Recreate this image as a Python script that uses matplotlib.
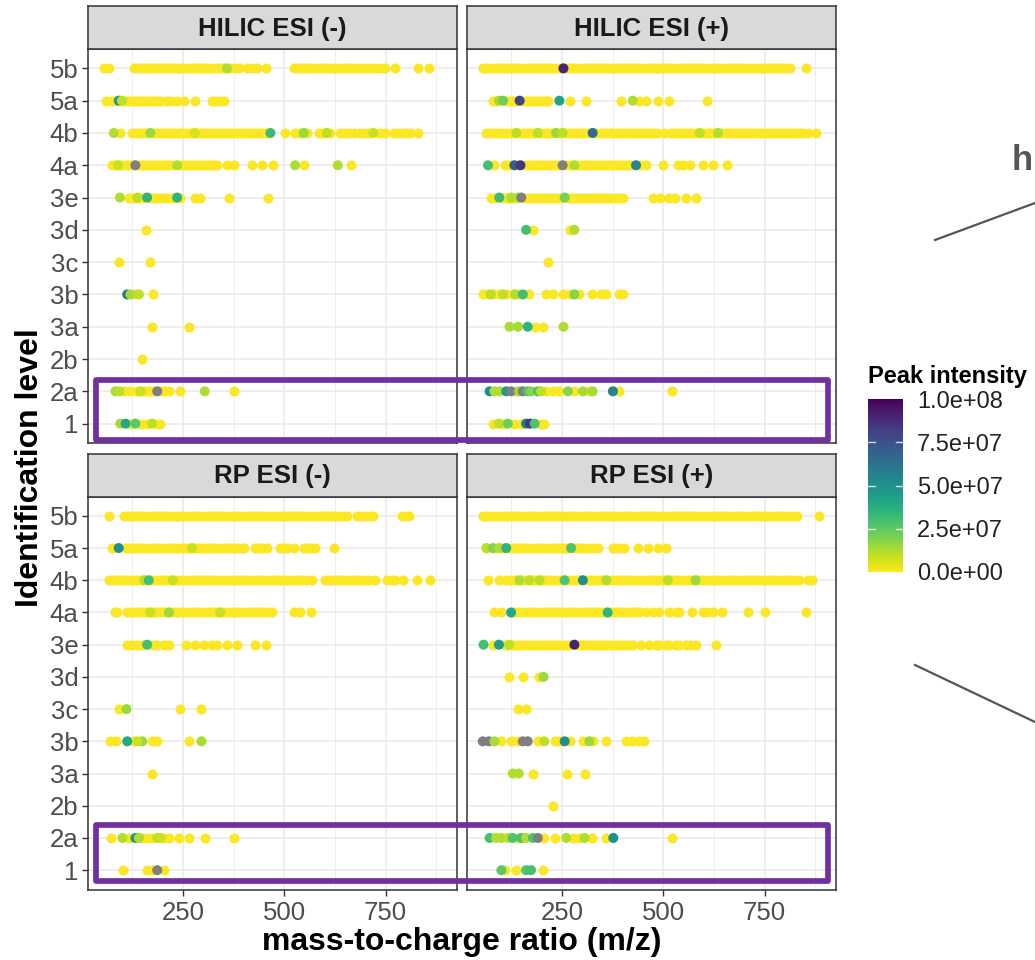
import matplotlib
matplotlib.use('Agg')
import matplotlib.pyplot as plt
from matplotlib.colors import Normalize
from matplotlib.cm import ScalarMappable
from matplotlib.lines import Line2D
from matplotlib.patches import Rectangle

plt.rcParams['font.family'] = ['Liberation Sans', 'DejaVu Sans']

# ---------------- data ----------------
levels = ['1', '2a', '2b', '3a', '3b', '3c', '3d', '3e', '4a', '4b', '5a', '5b']
panels = ['HILIC ESI (-)', 'HILIC ESI (+)', 'RP ESI (-)', 'RP ESI (+)']
x_ticks = [250, 500, 750]
x_minor = [125, 375, 625, 875]
cbar_ticks = [0, 2.5e7, 5e7, 7.5e7, 1e8]
cbar_labels = ['0.0e+00', '2.5e+07', '5.0e+07', '7.5e+07', '1.0e+08']
low_intensity = 5e5   # near-zero intensity of the yellow points

# low-intensity features: m/z per identification level
hilic_neg_mz = {
    '5b': [55, 68, 129, 137, 146, 154, 162, 171, 180, 188, 196, 205, 214, 222, 231, 240, 248, 256, 265, 274,
           282, 291, 300, 308, 317, 326, 334, 343, 352, 367, 378, 388, 408, 421, 433, 454, 523, 531, 540, 549,
           558, 567, 577, 586, 595, 604, 613, 622, 632, 641, 650, 659, 668, 678, 688, 697, 706, 716, 726, 737,
           748, 774, 831, 856],
    '5a': [60, 75, 84, 101, 110, 118, 126, 134, 142, 150, 158, 166, 174, 182, 190, 197, 211, 222, 236, 252,
           281, 322, 330, 342, 351],
    '4b': [96, 125, 134, 142, 151, 160, 178, 187, 196, 205, 214, 223, 231, 240, 249, 258, 267, 276, 285, 294,
           302, 311, 320, 329, 338, 347, 356, 365, 374, 383, 392, 401, 410, 419, 428, 437, 446, 456, 503, 527,
           538, 556, 585, 596, 614, 638, 648, 660, 671, 688, 699, 710, 733, 749, 770, 781, 792, 801, 811, 831],
    '4a': [76, 84, 92, 101, 109, 117, 125, 142, 150, 158, 166, 175, 183, 191, 199, 208, 216, 224, 245, 253,
           261, 270, 278, 286, 294, 303, 311, 319, 327, 335, 359, 376, 421, 445, 472, 548, 665],
    '3e': [117, 125, 133, 141, 150, 170, 178, 186, 195, 203, 211, 220, 228, 244, 281, 293, 365, 459],
    '3d': [160],
    '3c': [92, 168],
    '3b': [133, 177],
    '3a': [173, 266],
    '2b': [150],
    '2a': [105, 121, 137, 154, 162, 170, 178, 199, 207, 215, 242, 376],
    '1': [121, 146, 162, 186, 195],
}
hilic_pos_mz = {
    '5b': [55, 64, 71, 80, 90, 99, 107, 116, 125, 133, 142, 151, 160, 168, 177, 186, 194, 203, 212, 220,
           229, 238, 247, 263, 272, 281, 289, 298, 307, 316, 324, 333, 342, 351, 359, 368, 377, 386, 394, 403,
           412, 421, 429, 438, 447, 456, 464, 473, 482, 491, 499, 508, 517, 526, 534, 543, 552, 561, 569, 578,
           587, 596, 604, 613, 622, 631, 640, 650, 659, 668, 677, 686, 695, 704, 713, 722, 731, 740, 749, 758,
           767, 776, 785, 794, 803, 812, 853],
    '5a': [80, 88, 112, 121, 129, 137, 154, 162, 170, 178, 187, 195, 203, 211, 216, 269, 310, 396, 441, 458,
           487, 514, 607],
    '4b': [64, 73, 82, 95, 106, 115, 124, 133, 145, 154, 163, 172, 181, 199, 208, 217, 226, 245, 260, 269,
           278, 287, 296, 305, 314, 335, 350, 359, 368, 377, 386, 395, 404, 413, 422, 431, 440, 449, 458, 467,
           476, 485, 503, 520, 529, 538, 547, 556, 565, 574, 583, 598, 607, 616, 625, 645, 654, 663, 672, 681,
           690, 699, 708, 717, 726, 735, 744, 753, 762, 771, 780, 789, 798, 807, 816, 825, 834, 843, 856, 877],
    '4a': [84, 109, 117, 125, 142, 158, 166, 174, 183, 191, 199, 207, 216, 224, 232, 240, 261, 269, 290, 298,
           306, 314, 322, 330, 338, 347, 355, 363, 371, 379, 388, 396, 404, 412, 420, 442, 458, 499, 536, 548,
           565, 597, 622, 657],
    '3e': [76, 84, 105, 113, 121, 129, 137, 158, 166, 174, 182, 190, 199, 207, 215, 223, 231, 239, 247, 265,
           273, 281, 289, 297, 305, 313, 321, 330, 338, 346, 354, 362, 370, 380, 392, 400, 474, 491, 515, 528,
           556, 581],
    '3d': [178, 269],
    '3c': [217],
    '3b': [55, 67, 80, 96, 113, 129, 142, 170, 211, 228, 252, 269, 293, 325, 347, 359, 392, 400],
    '3a': [183, 203],
    '2b': [],
    '2a': [137, 211, 228, 244, 281, 318, 390, 521],
    '1': [80, 105, 133, 150, 199, 207],
}
rp_neg_mz = {
    '5b': [68, 105, 114, 122, 131, 140, 149, 158, 167, 176, 185, 194, 203, 212, 221, 230, 239, 248, 257, 266,
           275, 284, 293, 302, 311, 320, 329, 338, 347, 356, 365, 374, 383, 392, 401, 410, 419, 428, 437, 446,
           455, 464, 473, 482, 491, 500, 509, 518, 527, 536, 545, 554, 563, 572, 581, 590, 599, 608, 617, 626,
           635, 644, 655, 679, 690, 700, 712, 720, 790, 800, 807],
    '5a': [76, 109, 118, 126, 135, 144, 153, 162, 171, 180, 189, 198, 207, 216, 225, 234, 243, 252, 261, 270,
           279, 288, 297, 306, 315, 324, 333, 342, 351, 360, 369, 378, 387, 396, 400, 429, 437, 445, 458, 490,
           499, 507, 523, 548, 556, 565, 577, 622],
    '4b': [68, 77, 86, 95, 104, 113, 122, 131, 140, 149, 158, 175, 184, 193, 202, 211, 220, 229, 238, 247,
           256, 265, 274, 283, 292, 301, 310, 319, 328, 337, 346, 355, 364, 373, 382, 391, 400, 409, 418, 427,
           436, 445, 454, 463, 472, 481, 490, 499, 508, 517, 526, 535, 544, 553, 568, 601, 610, 619, 628, 637,
           646, 655, 664, 673, 682, 691, 700, 708, 725, 753, 765, 774, 794, 827, 860],
    '4a': [84, 88, 113, 122, 131, 140, 149, 158, 167, 176, 185, 194, 203, 212, 221, 230, 239, 248, 257, 266,
           275, 284, 293, 302, 311, 320, 329, 338, 347, 356, 365, 374, 383, 392, 401, 410, 419, 428, 437, 446,
           455, 464, 470, 523, 540, 565],
    '3e': [113, 125, 137, 150, 174, 187, 203, 216, 257, 281, 302, 322, 334, 359, 384, 429, 454],
    '3d': [],
    '3c': [92, 242, 295],
    '3b': [70, 86, 129, 174, 187, 266],
    '3a': [174],
    '2b': [],
    '2a': [72, 117, 150, 162, 174, 203, 216, 240, 265, 304, 376],
    '1': [102, 162, 174, 203],
}
rp_pos_mz = {
    '5b': [55, 64, 73, 82, 91, 100, 109, 118, 127, 136, 145, 154, 163, 172, 181, 190, 199, 208, 217, 226,
           235, 244, 253, 262, 271, 280, 289, 298, 307, 316, 325, 334, 343, 352, 361, 370, 379, 388, 397, 406,
           415, 424, 433, 442, 451, 460, 469, 478, 487, 496, 505, 514, 523, 532, 541, 550, 559, 568, 577, 586,
           595, 604, 613, 622, 631, 640, 649, 658, 667, 676, 685, 694, 703, 712, 721, 730, 739, 748, 757, 766,
           775, 784, 793, 802, 811, 820, 831, 883],
    '5a': [64, 88, 105, 121, 129, 138, 147, 156, 165, 174, 183, 192, 201, 210, 219, 228, 237, 246, 255, 264,
           282, 291, 300, 309, 318, 327, 339, 376, 384, 392, 404, 437, 462, 487, 507],
    '4b': [68, 95, 113, 122, 131, 140, 149, 158, 167, 176, 185, 194, 203, 212, 221, 230, 239, 248, 266, 275,
           284, 293, 311, 320, 329, 338, 347, 356, 365, 374, 383, 392, 401, 410, 419, 428, 437, 446, 455, 464,
           473, 482, 491, 500, 509, 518, 527, 536, 545, 554, 563, 572, 581, 590, 599, 608, 617, 626, 635, 644,
           653, 662, 671, 680, 689, 698, 707, 716, 725, 734, 743, 752, 761, 770, 779, 788, 797, 806, 815, 824,
           836, 856, 868],
    '4a': [84, 101, 133, 142, 151, 160, 169, 178, 187, 196, 205, 214, 223, 232, 241, 250, 259, 268, 277, 286,
           295, 304, 313, 322, 331, 340, 349, 358, 372, 381, 390, 399, 408, 417, 426, 435, 441, 458, 474, 490,
           515, 532, 540, 572, 597, 609, 622, 646, 708, 751, 853],
    '3e': [80, 109, 118, 127, 136, 145, 154, 163, 172, 181, 190, 199, 208, 217, 226, 235, 244, 253, 262, 271,
           290, 299, 308, 317, 326, 335, 344, 353, 362, 371, 380, 389, 398, 407, 416, 425, 445, 466, 482, 490,
           507, 515, 532, 540, 556, 566, 581, 630],
    '3d': [119, 154, 195],
    '3c': [142, 162],
    '3b': [101, 125, 142, 191, 232, 244, 269, 302, 326, 359, 408, 424, 441, 453],
    '3a': [179, 262, 308],
    '2b': [228],
    '2a': [142, 207, 232, 277, 293, 324, 359, 521],
    '1': [109, 137, 203],
}

# higher-intensity features: (level, m/z, intensity); None = missing intensity
hilic_neg_high = [
    ('5b', 359, 1.2e7), ('5a', 92, 4.5e7), ('5a', 100, 1.0e7),
    ('4b', 80, 1.2e7), ('4b', 170, 1.5e7), ('4b', 466, 3.2e7), ('4b', 548, 1.5e7), ('4b', 605, 1.0e7),
    ('4b', 720, 0.8e7), ('4b', 280, 0.6e7),
    ('4a', 133, None), ('4a', 236, 1.2e7), ('4a', 527, 1.2e7), ('4a', 632, 1.2e7), ('4a', 90, 0.8e7),
    ('3e', 95, 1.2e7), ('3e', 162, 3.5e7), ('3e', 236, 3.5e7), ('3e', 138, 1.0e7),
    ('3b', 113, 6.0e7), ('3b', 121, 1.3e7), ('3b', 142, 1.0e7),
    ('2a', 84, 1.3e7), ('2a', 94, 1.0e7), ('2a', 187, None), ('2a', 304, 1.2e7), ('2a', 146, 0.8e7),
    ('1', 96, 1.3e7), ('1', 109, 4.0e7), ('1', 133, 2.5e7), ('1', 174, 1.0e7),
]
hilic_pos_high = [
    ('5b', 254, 9.0e7),
    ('5a', 95, 1.3e7), ('5a', 105, 2.2e7), ('5a', 146, 8.0e7), ('5a', 244, 4.2e7), ('5a', 425, 1.2e7),
    ('4b', 138, 1.0e7), ('4b', 191, 1.0e7), ('4b', 236, 1.5e7), ('4b', 252, 1.0e7), ('4b', 326, 6.5e7),
    ('4b', 590, 1.0e7), ('4b', 635, 1.2e7),
    ('4a', 68, 3.0e7), ('4a', 133, 7.0e7), ('4a', 148, 8.5e7), ('4a', 252, None), ('4a', 281, 1.2e7),
    ('4a', 433, 5.5e7),
    ('3e', 96, 3.2e7), ('3e', 125, 1.2e7), ('3e', 142, 1.0e7), ('3e', 150, None), ('3e', 257, 2.0e7),
    ('3d', 162, 3.0e7), ('3d', 281, 1.2e7),
    ('3b', 75, 1.0e7), ('3b', 105, 1.0e7), ('3b', 135, 1.2e7), ('3b', 154, 3.0e7), ('3b', 281, 1.8e7),
    ('3a', 121, 1.3e7), ('3a', 142, 1.3e7), ('3a', 166, 3.5e7), ('3a', 254, 1.2e7),
    ('2a', 72, 5.0e7), ('2a', 84, 1.2e7), ('2a', 96, 1.2e7), ('2a', 113, 4.5e7), ('2a', 125, None),
    ('2a', 145, 1.5e7), ('2a', 154, None), ('2a', 166, 2.8e7), ('2a', 174, 1.8e7), ('2a', 191, 2.8e7),
    ('2a', 199, 1.0e7), ('2a', 265, 1.8e7), ('2a', 302, 1.3e7), ('2a', 326, 1.3e7), ('2a', 376, 5.5e7),
    ('1', 95, 1.0e7), ('1', 117, 2.2e7), ('1', 162, 6.0e7), ('1', 172, 8.5e7), ('1', 183, 2.8e7),
]
rp_neg_high = [
    ('5a', 92, 5.0e7), ('5a', 273, 0.8e7),
    ('4b', 155, 1.0e7), ('4b', 166, 3.0e7), ('4b', 225, 0.8e7),
    ('4a', 170, 0.8e7), ('4a', 216, 1.5e7), ('4a', 342, 0.8e7),
    ('3e', 162, 3.0e7),
    ('3c', 111, 1.5e7),
    ('3b', 113, 4.0e7), ('3b', 150, 1.5e7), ('3b', 296, 1.3e7), ('3b', 138, 0.8e7),
    ('2a', 101, 1.2e7), ('2a', 133, 4.5e7), ('2a', 142, 1.2e7), ('2a', 187, 1.0e7), ('2a', 195, 0.8e7),
    ('1', 187, None),
]
rp_pos_high = [
    ('5a', 64, 1.0e7), ('5a', 80, 1.8e7), ('5a', 96, 1.2e7), ('5a', 113, 3.5e7), ('5a', 273, 2.8e7),
    ('4b', 146, 1.2e7), ('4b', 170, 1.0e7), ('4b', 195, 1.0e7), ('4b', 257, 2.8e7), ('4b', 302, 5.0e7),
    ('4b', 360, 1.2e7), ('4b', 511, 1.0e7), ('4b', 580, 1.5e7),
    ('4a', 125, 4.0e7), ('4a', 363, 3.5e7),
    ('3e', 57, 3.0e7), ('3e', 95, 4.5e7), ('3e', 120, 1.0e7), ('3e', 281, 9.0e7),
    ('3d', 205, 1.5e7),
    ('3b', 55, None), ('3b', 70, None), ('3b', 84, 1.3e7), ('3b', 154, None), ('3b', 166, None),
    ('3b', 207, 1.0e7), ('3b', 257, 5.0e7), ('3b', 318, 1.5e7),
    ('3a', 129, 1.2e7), ('3a', 144, 1.2e7),
    ('2a', 72, 3.0e7), ('2a', 88, 1.2e7), ('2a', 101, 1.2e7), ('2a', 117, 1.0e7), ('2a', 129, 2.8e7),
    ('2a', 150, 2.8e7), ('2a', 162, 1.2e7), ('2a', 179, 2.8e7), ('2a', 191, None), ('2a', 261, 1.2e7),
    ('2a', 306, 1.2e7), ('2a', 377, 5.0e7),
    ('1', 101, 2.5e7), ('1', 162, 2.8e7), ('1', 174, 3.0e7),
]

panel_low = [hilic_neg_mz, hilic_pos_mz, rp_neg_mz, rp_pos_mz]
panel_high = [hilic_neg_high, hilic_pos_high, rp_neg_high, rp_pos_high]

# ---------------- figure ----------------
W, H = 1035, 960
fig = plt.figure(figsize=(W / 100, H / 100), dpi=100)
cmap = plt.get_cmap('viridis_r')
norm = Normalize(0, 1e8)
NA_COLOR = '#7F7F7F'
DOT = 52


def rect(l, t, r, b):
    return [l / W, 1 - b / H, (r - l) / W, (b - t) / H]


cols = [(88.3, 457.0), (467.3, 836.0)]
rows = [(49.0, 443.0), (496.5, 889.5)]
strip_h = 43.0
lvl_idx = {lv: i for i, lv in enumerate(levels)}

for k, name in enumerate(panels):
    r, c = divmod(k, 2)
    l, rr = cols[c]
    t, b = rows[r]
    ax = fig.add_axes(rect(l, t, rr, b))
    ax.set_xlim(17, 926)
    ax.set_ylim(-0.6, len(levels) - 0.4)
    ax.set_axisbelow(True)
    ax.set_xticks(x_ticks)
    ax.set_xticks(x_minor, minor=True)
    ax.set_yticks(range(len(levels)))
    ax.grid(True, which='major', color='#EBEBEB', lw=1.2)
    ax.grid(True, which='minor', axis='x', color='#EBEBEB', lw=0.6)
    for s in ax.spines.values():
        s.set_color('#333333')
        s.set_linewidth(1.1)
    ax.tick_params(which='minor', length=0)
    ax.tick_params(axis='both', which='major', colors='#333333', length=4, width=1.0,
                   labelsize=18.5, labelcolor='#4D4D4D')
    ax.tick_params(axis='x', pad=4)
    ax.tick_params(axis='y', pad=3)
    if c == 0:
        ax.set_yticklabels(levels)
    else:
        ax.set_yticklabels([])
        ax.tick_params(axis='y', length=0)
    if r == 1:
        ax.set_xticklabels([str(v) for v in x_ticks])
    else:
        ax.set_xticklabels([])
        ax.tick_params(axis='x', length=0)

    low = panel_low[k]
    xs, ys = [], []
    for lv in levels:
        for mz in low[lv]:
            xs.append(mz)
            ys.append(lvl_idx[lv])
    ax.scatter(xs, ys, s=DOT, c=[cmap(norm(low_intensity))], linewidths=0, zorder=2)
    hx, hy, hc = [], [], []
    for lv, mz, val in panel_high[k]:
        hx.append(mz)
        hy.append(lvl_idx[lv])
        hc.append(NA_COLOR if val is None else cmap(norm(val)))
    ax.scatter(hx, hy, s=DOT, c=hc, linewidths=0, zorder=3)

    # strip
    sax = fig.add_axes(rect(l, t - strip_h, rr, t))
    sax.set_facecolor('#D9D9D9')
    sax.set_xticks([])
    sax.set_yticks([])
    for s in sax.spines.values():
        s.set_color('#333333')
        s.set_linewidth(1.1)
    sax.text(0.5, 0.47, name, ha='center', va='center', fontsize=18.5, fontweight='bold',
             color='#1A1A1A', transform=sax.transAxes)

# axis titles
fig.text(462 / W, 1 - 942 / H, 'mass-to-charge ratio (m/z)', ha='center', va='center',
         fontsize=23, fontweight='bold', color='black')
fig.text(30 / W, 1 - 468 / H, 'Identification level', ha='center', va='center', rotation=90,
         fontsize=23, fontweight='bold', color='black')

# highlight boxes
PURPLE = '#7030A0'
for (t, b) in [(380, 439.7), (824.5, 880.5)]:
    box = Rectangle((96 / W, 1 - b / H), (828 - 96) / W, (b - t) / H, fill=False,
                    edgecolor=PURPLE, lw=4.1, joinstyle='round', transform=fig.transFigure, zorder=10)
    fig.add_artist(box)

# colour bar legend
cax = fig.add_axes(rect(868, 399, 903, 572))
cb = fig.colorbar(ScalarMappable(norm=norm, cmap=cmap), cax=cax)
cb.outline.set_visible(False)
cb.set_ticks(cbar_ticks)
cb.set_ticklabels(cbar_labels)
cax.tick_params(length=0, labelsize=17, pad=10, labelcolor='#222222')
for tv in cbar_ticks[1:-1]:
    cax.plot([0, 0.2], [tv, tv], color='white', lw=1, alpha=0.8, transform=cax.get_yaxis_transform())
    cax.plot([0.8, 1.0], [tv, tv], color='white', lw=1, alpha=0.8, transform=cax.get_yaxis_transform())
fig.text(868 / W, 1 - 377 / H, 'Peak intensity', ha='left', va='center', fontsize=17,
         fontweight='bold', color='black')

# fragments of the neighbouring figure at the right edge
fig.add_artist(Line2D([935 / W, 1.0], [1 - 240 / H, 1 - 203 / H], color='#555555', lw=1.6,
                      transform=fig.transFigure))
fig.add_artist(Line2D([915 / W, 1.0], [1 - 665 / H, 1 - 722 / H], color='#555555', lw=1.6,
                      transform=fig.transFigure))
fig.text(1012 / W, 1 - 160 / H, 'h', ha='left', va='center', fontsize=25, fontweight='bold',
         color='#555555')

fig.savefig('out.png', dpi=100)
